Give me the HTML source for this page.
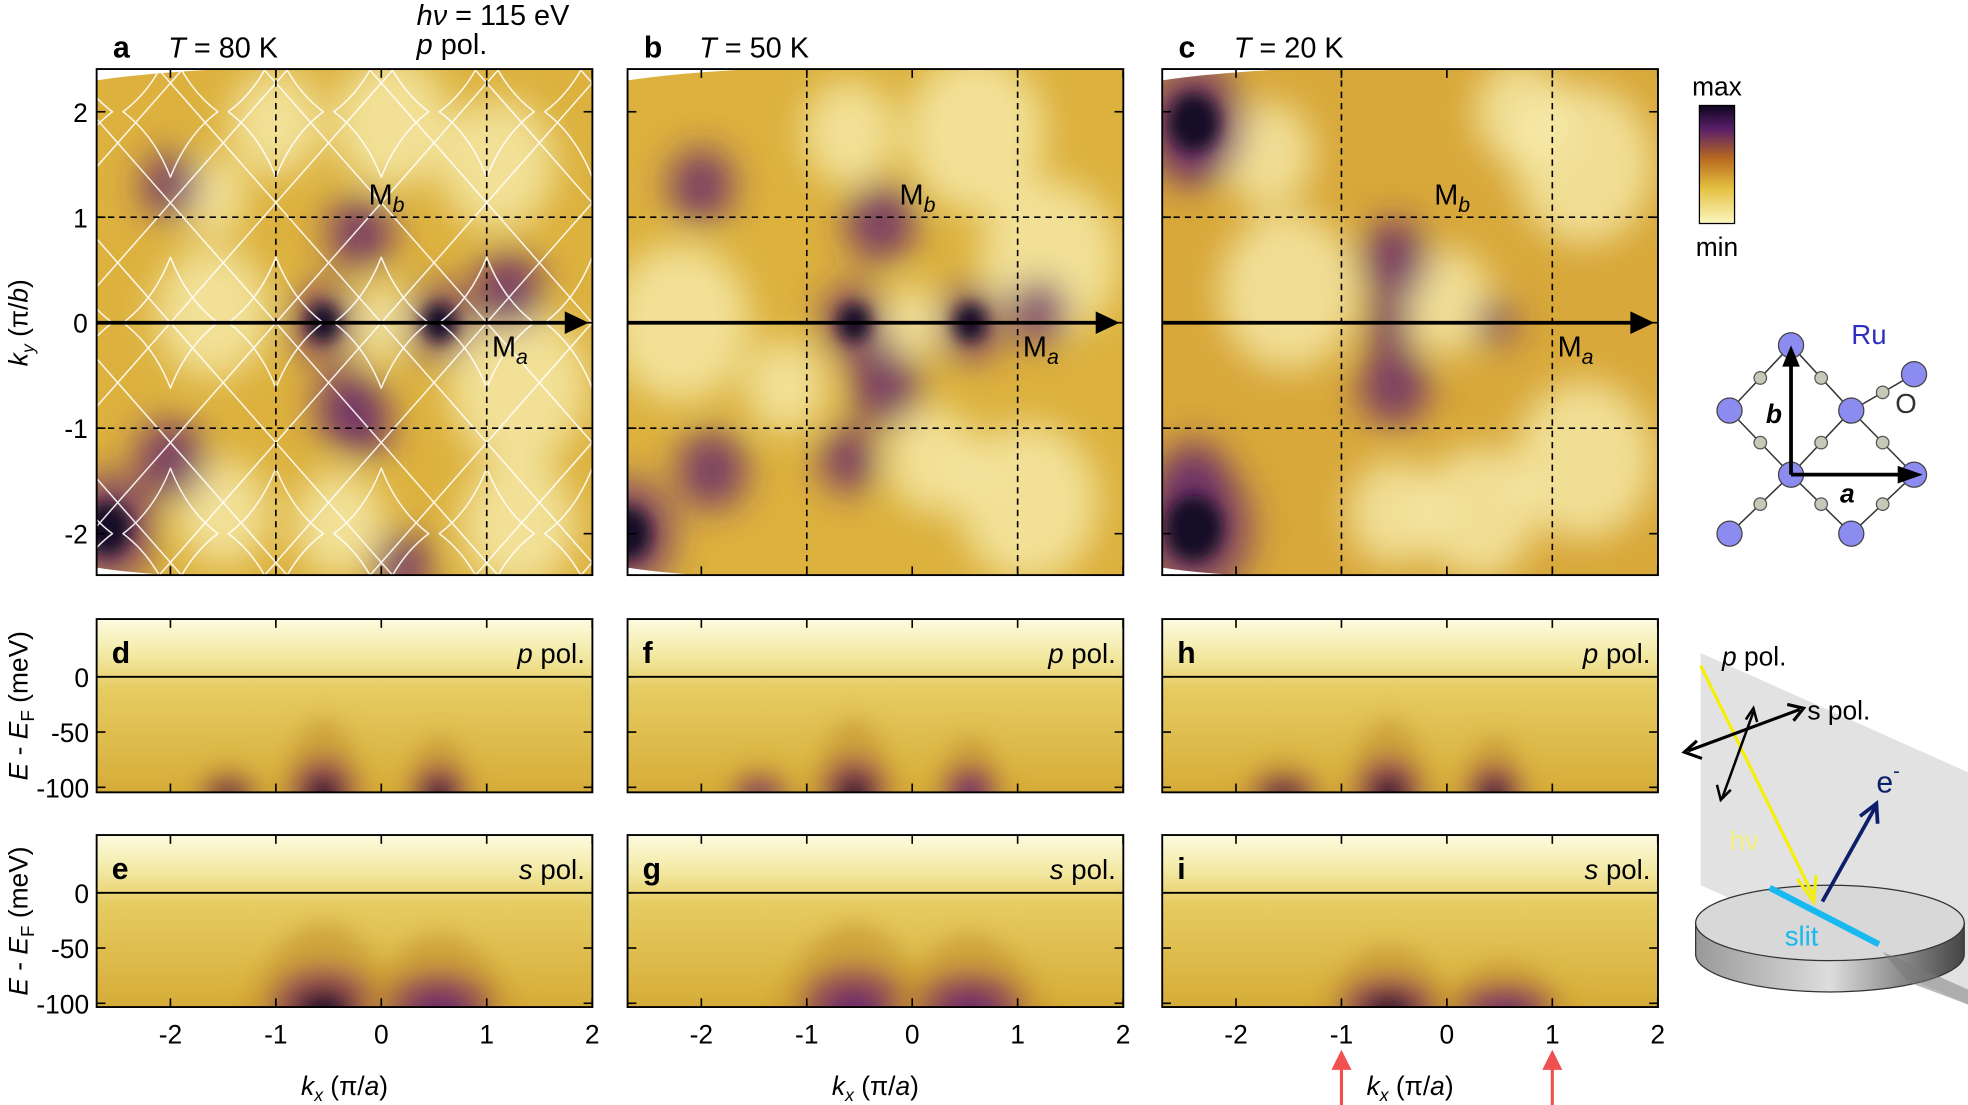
<!DOCTYPE html>
<html><head><meta charset="utf-8"><style>
html,body{margin:0;padding:0;background:#fff}
svg{display:block;font-family:"Liberation Sans",sans-serif}
</style></head><body>
<svg id="fig" width="1968" height="1105" viewBox="0 0 1568 880" preserveAspectRatio="none" xmlns="http://www.w3.org/2000/svg">
<defs>
<filter id="blur" x="-50%" y="-50%" width="200%" height="200%"><feGaussianBlur stdDeviation="14"/></filter>
<filter id="blurS" x="-50%" y="-50%" width="200%" height="200%"><feGaussianBlur stdDeviation="6"/></filter>
<filter id="blur2" x="-50%" y="-50%" width="200%" height="200%"><feGaussianBlur stdDeviation="9"/></filter>
<linearGradient id="cbar" x1="0" y1="1" x2="0" y2="0">
<stop offset="0" stop-color="#fbf7c0"/><stop offset="0.3" stop-color="#e4c040"/><stop offset="0.55" stop-color="#b86a20"/><stop offset="0.8" stop-color="#5a1f6a"/><stop offset="1" stop-color="#0d0520"/></linearGradient>
<linearGradient id="topband" x1="0" y1="0" x2="0" y2="1">
<stop offset="0" stop-color="#fdfbe0"/><stop offset="0.2" stop-color="#f3eaa6"/><stop offset="0.4" stop-color="#e6cc62"/><stop offset="1" stop-color="#d6ac38"/></linearGradient>
<linearGradient id="cyl" x1="0" y1="0" x2="1" y2="0"><stop offset="0" stop-color="#999"/><stop offset="0.5" stop-color="#ddd"/><stop offset="1" stop-color="#444"/></linearGradient>
</defs>
<g id="panels"></g>
<g id="deco"></g>
</svg>
<script>
// ---------- data ----------
const kxTicks = [-2,-1,0,1,2];
const kyTicks = [2,1,0,-1,-2];
const eTicks = [0,-50,-100];
const mapLetters = ["a","b","c"];
const mapTemps = ["T = 80 K","T = 50 K","T = 20 K"];
const cutLettersP = ["d","f","h"];
const cutLettersS = ["e","g","i"];
// Fermi-surface map features: [kx, ky, radius(k units), level] level: -1 light, 1 purple, 2 dark
const mapA = [[0,0,0.3,-1],[-1.6,0.1,0.5,-1],[1.3,-0.6,0.6,-1],[1.1,1.5,0.5,-1],[-1.0,1.9,0.4,-1],[0.1,1.9,0.5,-1],[1.3,-1.9,0.5,-1],[-0.4,-1.9,0.4,-1],[-1.5,-1.8,0.4,-1],[-1.6,1.2,0.3,-1],[-0.55,0,0.14,2],[0.55,0,0.14,2],[-2.0,1.3,0.25,1],[-2.0,-1.3,0.3,1],[-0.2,0.85,0.28,1],[-0.3,-0.8,0.3,1],[-0.15,-1.0,0.22,1],[-2.6,-1.95,0.2,2],[1.2,0.3,0.3,1],[0.2,-2.3,0.25,1]];
const mapB = [[0,0,0.28,-1],[-2.2,0,0.6,-1],[1.3,0.6,0.6,-1],[1.1,-1.7,0.6,-1],[0.6,1.8,0.6,-1],[-0.6,1.8,0.4,-1],[-1.2,-0.6,0.35,-1],[0.2,-1.3,0.4,-1],[-0.55,0,0.14,2],[0.55,0,0.14,2],[-0.3,0.95,0.3,1],[-0.25,-0.6,0.3,1],[-2.0,1.3,0.28,1],[-1.9,-1.4,0.3,1],[-2.7,-2,0.2,2],[-0.6,-1.3,0.25,1],[1.2,0.1,0.25,1]];
const mapC = [[-1.5,0.3,0.6,-1],[0.0,0.2,0.4,-1],[1.3,1.5,0.6,-1],[0.3,-1.8,0.5,-1],[1.3,-1.3,0.6,-1],[-0.5,-1.8,0.4,-1],[-1.7,1.6,0.4,-1],[0.7,2.0,0.4,-1],[-2.4,1.9,0.22,2],[-2.4,1.6,0.25,1],[-2.4,-1.95,0.25,2],[-2.4,-1.5,0.3,1],[0.45,0,0.17,1],[-0.5,0.6,0.3,1],[-0.5,-0.6,0.3,1],[-0.55,0,0.2,1]];
const maps = [mapA, mapB, mapC];
// dispersion cuts: [kx, width(k), energy depth(meV), level]
const cutD = [[-1.45,0.25,30,2],[-0.55,0.3,70,2],[0.55,0.25,55,2]];
const cutE = [[-0.55,0.5,80,2],[0.55,0.5,70,1]];
const cutF = [[-1.45,0.25,30,1],[-0.55,0.3,70,2],[0.55,0.25,55,1]];
const cutG = [[-0.55,0.5,80,1],[0.55,0.5,70,1]];
const cutH = [[-1.55,0.3,35,2],[-0.55,0.3,70,2],[0.45,0.25,55,2]];
const cutI = [[-0.55,0.45,60,2],[0.55,0.45,45,1]];
const cutsP = [cutD, cutF, cutH];
const cutsS = [cutE, cutG, cutI];

// ---------- geometry ----------
const panelX = [77, 500, 926];
const PW = 395, UNIT = 84;
const mapTop = 55, mapBot = 458, ky0 = 257;
const cutP = {top:493, zero:539, bot:631};
const cutS = {top:665, zero:711, bot:802};
const EPX = 0.88;
function xk(p, kx){ return panelX[p] + (kx + 2.7) * UNIT; }
function yk(ky){ return ky0 - ky * UNIT; }
function yE(r, e){ return r.zero - e * EPX; }

const NS = "http://www.w3.org/2000/svg";
const root = document.getElementById('panels');
function el(tag, attrs, parent, text){
  const e = document.createElementNS(NS, tag);
  for (const k in attrs) e.setAttribute(k, attrs[k]);
  if (text !== undefined) e.textContent = text;
  (parent || root).appendChild(e);
  return e;
}
const COL = {"-1":"#f8f0b4","1":"#6a2a6a","2":"#150828"};
const OPA = {"-1":0.75,"1":0.85,"2":1};

for (let p = 0; p < 3; p++){
  const x0 = panelX[p];
  const cp = el('clipPath', {id:'cm'+p});
  el('rect', {x:x0, y:mapTop, width:PW, height:mapBot-mapTop}, cp);
  const g = el('g', {'clip-path':'url(#cm'+p+')'});
  
  
  el('rect', {x:x0, y:mapTop, width:PW, height:mapBot-mapTop, fill: p==2 ? '#d8a83a' : '#dcb13e'}, g);
  const bg = el('g', {filter:'url(#blur)'}, g);
  const sg = el('g', {filter:'url(#blurS)'}, g);
  maps[p].forEach(f => {
    const dark = f[3] == 2;
    if (dark) {
      const h = el('ellipse', {cx:xk(p,f[0]), cy:yk(f[1]), rx:f[2]*UNIT*2.2, ry:f[2]*UNIT*2.6, fill:COL[1], opacity:0.8}, bg);
      
      
    }
    const c = el('ellipse', {cx:xk(p,f[0]), cy:yk(f[1]), rx:f[2]*UNIT*1.1, ry:f[2]*UNIT*1.25, fill:COL[f[3]], opacity:OPA[f[3]]}, dark ? sg : bg);
    
    
  });
  el('path', {d:`M${x0} ${mapTop} L${x0+100} ${mapTop} Q${x0+40} ${mapTop+3} ${x0} ${mapTop+9}Z`, fill:'#fff'}, g);
  el('path', {d:`M${x0} ${mapBot} L${x0+60} ${mapBot} Q${x0+25} ${mapBot-2} ${x0} ${mapBot-6}Z`, fill:'#fff'}, g);
  if (p == 0){
    const fs = el('g', {fill:'none', stroke:'#fff', 'stroke-width':1.2, 'stroke-linejoin':'round', opacity:0.9}, g);
    
    
    for (let cx = -3; cx <= 2; cx++){
      for (const cy of [2, 0, -2]){
        const X = xk(p,cx), Y = yk(cy), w = 0.45*UNIT, h = 0.62*UNIT;
        el('path', {d:`M${X} ${Y-h} Q${X+w*0.35} ${Y-h*0.35} ${X+w} ${Y} Q${X+w*0.35} ${Y+h*0.35} ${X} ${Y+h} Q${X-w*0.35} ${Y+h*0.35} ${X-w} ${Y} Q${X-w*0.35} ${Y-h*0.35} ${X} ${Y-h}Z`}, fs);
      }
    }
    for (let s = -5; s <= 5; s++){
      el('line', {x1:xk(p,s-2.2), y1:yk(2.5), x2:xk(p,s+2.2), y2:yk(-2.5)}, fs);
      el('line', {x1:xk(p,s-2.2), y1:yk(-2.5), x2:xk(p,s+2.2), y2:yk(2.5)}, fs);
    }
  }
  [-1,1].forEach(v => {
    el('line', {x1:xk(p,v), y1:mapTop, x2:xk(p,v), y2:mapBot, stroke:'#000', 'stroke-width':1.3, 'stroke-dasharray':'5,4'}, g);
    el('line', {x1:x0, y1:yk(v), x2:x0+PW, y2:yk(v), stroke:'#000', 'stroke-width':1.3, 'stroke-dasharray':'5,4'}, g);
  });
  const ar = el('g', {}, g);
  
  
  el('line', {x1:x0, y1:yk(0), x2:x0+PW-18, y2:yk(0), stroke:'#000', 'stroke-width':3}, ar);
  el('path', {d:`M${x0+PW-22} ${yk(0)-9} L${x0+PW-3} ${yk(0)} L${x0+PW-22} ${yk(0)+9}Z`, fill:'#000'}, ar);
  el('rect', {x:x0, y:mapTop, width:PW, height:mapBot-mapTop, fill:'none', stroke:'#000', 'stroke-width':1.5});
  kxTicks.forEach(t => {
    el('line', {x1:xk(p,t), y1:mapTop, x2:xk(p,t), y2:mapTop+7, stroke:'#000','stroke-width':1.3});
    el('line', {x1:xk(p,t), y1:mapBot, x2:xk(p,t), y2:mapBot-7, stroke:'#000','stroke-width':1.3});
  });
  kyTicks.forEach(t => {
    el('line', {x1:x0, y1:yk(t), x2:x0+7, y2:yk(t), stroke:'#000','stroke-width':1.3});
    el('line', {x1:x0+PW, y1:yk(t), x2:x0+PW-7, y2:yk(t), stroke:'#000','stroke-width':1.3});
  });
  const lt = el('text', {x:x0+13, y:46, 'font-size':24, 'font-weight':'bold'}, undefined, mapLetters[p]);
  
  
  const tt = el('text', {x:x0+57, y:46, 'font-size':23});
  
  
  el('tspan', {'font-style':'italic'}, tt, 'T');
  el('tspan', {}, tt, mapTemps[p].slice(1));
  const mb = el('text', {x:xk(p,-0.12), y:yk(1.12), 'font-size':23});
   
  mb.textContent = 'M'; el('tspan', {'font-size':17, 'font-style':'italic', dy:6}, mb, 'b');
  const ma = el('text', {x:xk(p,1.05), y:yk(-0.32), 'font-size':23});
   
  ma.textContent = 'M'; el('tspan', {'font-size':17, 'font-style':'italic', dy:6}, ma, 'a');

  [[cutP, cutsP[p], cutLettersP[p], 'p'], [cutS, cutsS[p], cutLettersS[p], 's']].forEach(([r, feats, letter, pol]) => {
    const id = 'cc'+letter;
    const c2 = el('clipPath', {id:id});
    el('rect', {x:x0, y:r.top, width:PW, height:r.bot-r.top}, c2);
    const cg = el('g', {'clip-path':`url(#${id})`});
    
    
    el('rect', {x:x0, y:r.top, width:PW, height:r.bot-r.top, fill:'url(#topband)'}, cg);
    const bb = el('g', {filter:'url(#blur2)'}, cg);
    feats.forEach(f => {
      const X = xk(p,f[0]), W = f[1]*UNIT, D = f[2];
      const a = el('path', {d:`M${X-W*1.6} ${r.bot+10} Q${X} ${yE(r,-100+D*2.0)} ${X+W*1.6} ${r.bot+10}Z`, fill:'#c08a28', opacity:0.55}, bb);
      
      
      el('ellipse', {cx:X, cy:r.bot, rx:W*1.0, ry:D*0.4, fill:'#8a3a5a', opacity:0.7}, bb);
      el('ellipse', {cx:X, cy:r.bot+2, rx:W*0.55, ry:D*0.2, fill:COL[f[3]], opacity:0.95}, bb);
    });
    el('line', {x1:x0, y1:yE(r,0), x2:x0+PW, y2:yE(r,0), stroke:'#000', 'stroke-width':1.5}, cg);
    el('rect', {x:x0, y:r.top, width:PW, height:r.bot-r.top, fill:'none', stroke:'#000', 'stroke-width':1.5});
    kxTicks.forEach(t => {
      el('line', {x1:xk(p,t), y1:r.top, x2:xk(p,t), y2:r.top+7, stroke:'#000','stroke-width':1.3});
      el('line', {x1:xk(p,t), y1:r.bot, x2:xk(p,t), y2:r.bot-7, stroke:'#000','stroke-width':1.3});
    });
    eTicks.forEach(t => {
      el('line', {x1:x0, y1:yE(r,t), x2:x0+7, y2:yE(r,t), stroke:'#000','stroke-width':1.3});
      el('line', {x1:x0+PW, y1:yE(r,t), x2:x0+PW-7, y2:yE(r,t), stroke:'#000','stroke-width':1.3});
    });
    const l2 = el('text', {x:x0+12, y:r.top+35, 'font-size':24, 'font-weight':'bold'}, undefined, letter);
    
    
    const pl = el('text', {x:x0+PW-6, y:r.top+35, 'font-size':22, 'text-anchor':'end'});
    
    
    el('tspan', {'font-style':'italic'}, pl, pol);
    el('tspan', {}, pl, ' pol.');
    if (p == 0){
      eTicks.forEach(t => {
        const tl = el('text', {x:x0-6, y:yE(r,t)+8, 'font-size':21, 'text-anchor':'end'}, undefined, String(t));
        
        
      });
      const yl = el('text', {transform:`translate(22 ${(r.top+r.bot)/2}) rotate(-90)`, 'font-size':21, 'text-anchor':'middle'});
      
      
      el('tspan', {'font-style':'italic'}, yl, 'E');
      el('tspan', {}, yl, ' - ');
      el('tspan', {'font-style':'italic'}, yl, 'E');
      el('tspan', {'font-size':15, dy:5}, yl, 'F');
      el('tspan', {dy:-5}, yl, ' (meV)');
    }
  });
  kxTicks.forEach(t => {
    const tl = el('text', {x:xk(p,t), y:831, 'font-size':21, 'text-anchor':'middle'}, undefined, String(t));
    
    
  });
  const xt = el('text', {x:x0+PW/2, y:872, 'font-size':21, 'text-anchor':'middle'});
  
  
  el('tspan', {'font-style':'italic'}, xt, 'k');
  el('tspan', {'font-size':14, dy:5, 'font-style':'italic'}, xt, 'x');
  el('tspan', {dy:-5}, xt, ' (π/');
  el('tspan', {'font-style':'italic'}, xt, 'a');
  el('tspan', {}, xt, ')');
}
kyTicks.forEach(t => {
  const tl = el('text', {x:70, y:yk(t)+8, 'font-size':21, 'text-anchor':'end'}, undefined, String(t));
  
  
});
const kyt = el('text', {transform:`translate(22 ${ky0}) rotate(-90)`, 'font-size':21, 'text-anchor':'middle'});


el('tspan', {'font-style':'italic'}, kyt, 'k');
el('tspan', {'font-size':14, dy:5, 'font-style':'italic'}, kyt, 'y');
el('tspan', {dy:-5}, kyt, ' (π/');
el('tspan', {'font-style':'italic'}, kyt, 'b');
el('tspan', {}, kyt, ')');
[-1,1].forEach(v => {
  const g = el('g', {});
  
  
  el('line', {x1:xk(2,v), y1:880, x2:xk(2,v), y2:848, stroke:'#f05050', 'stroke-width':2.5}, g);
  el('path', {d:`M${xk(2,v)-8} ${852} L${xk(2,v)} ${836} L${xk(2,v)+8} ${852}Z`, fill:'#f05050'}, g);
});
</script>
<script>
(function(){
const NS="http://www.w3.org/2000/svg", d=document.getElementById('deco');
function el(t,a,p,txt){const e=document.createElementNS(NS,t);for(const k in a)e.setAttribute(k,a[k]);if(txt!==undefined)e.textContent=txt;(p||d).appendChild(e);return e;}
const hv=el('text',{x:332,y:20,'font-size':23});


el('tspan',{'font-style':'italic'},hv,'hν');
el('tspan',{},hv,' = 115 eV');
const pp=el('text',{x:332,y:43,'font-size':23});


el('tspan',{'font-style':'italic'},pp,'p');
el('tspan',{},pp,' pol.');
const cb=el('g',{});


el('rect',{x:1354,y:84,width:28,height:94,fill:'url(#cbar)',stroke:'#000','stroke-width':1},cb);
el('text',{x:1368,y:76,'font-size':21,'text-anchor':'middle'},cb,'max');
el('text',{x:1368,y:204,'font-size':21,'text-anchor':'middle'},cb,'min');
const cr=el('g',{});


const Ru=[[1427,275],[1525,298],[1378,327],[1475,327],[1427,378],[1525,378],[1378,425],[1475,425]];
const bonds=[[0,2],[0,3],[2,4],[3,4],[3,1],[3,5],[4,6],[4,7],[5,7]];
bonds.forEach(b=>{const a=Ru[b[0]],c=Ru[b[1]];el('line',{x1:a[0],y1:a[1],x2:c[0],y2:c[1],stroke:'#333','stroke-width':1.2},cr);});
bonds.forEach(b=>{const a=Ru[b[0]],c=Ru[b[1]];el('circle',{cx:(a[0]+c[0])/2,cy:(a[1]+c[1])/2,r:5,fill:'#c8c8b8',stroke:'#555','stroke-width':1},cr);});
Ru.forEach(r=>el('circle',{cx:r[0],cy:r[1],r:10,fill:'#8c8cf0',stroke:'#444','stroke-width':1},cr));
el('line',{x1:1427,y1:378,x2:1427,y2:288,stroke:'#000','stroke-width':3},cr);
el('path',{d:'M1420 292 L1427 275 L1434 292Z',fill:'#000'},cr);
el('line',{x1:1427,y1:378,x2:1515,y2:378,stroke:'#000','stroke-width':3},cr);
el('path',{d:'M1512 371 L1532 378 L1512 385Z',fill:'#000'},cr);
el('text',{x:1407,y:337,'font-size':21,'font-weight':'bold','font-style':'italic'},cr,'b');
el('text',{x:1466,y:400,'font-size':21,'font-weight':'bold','font-style':'italic'},cr,'a');
el('text',{x:1475,y:274,'font-size':22,fill:'#3030c0'},cr,'Ru');
el('text',{x:1510,y:329,'font-size':22,fill:'#333'},cr,'O');
const ge=el('g',{});


el('path',{d:'M1355 520 L1568 615 L1568 800 L1355 705Z',fill:'#e2e2e2'},ge);
el('path',{d:'M1351 735 L1351 760 A107 30 0 0 0 1565 760 L1565 735Z',fill:'url(#cyl)',stroke:'#333','stroke-width':1},ge);
el('ellipse',{cx:1458,cy:735,rx:107,ry:30,fill:'#d8d8d8',stroke:'#333','stroke-width':1},ge);
el('path',{d:'M1500 758 L1568 788 L1568 800 L1520 782Z',fill:'#777',opacity:0.5},ge);
el('line',{x1:1410,y1:707,x2:1497,y2:752,stroke:'#18b8f0','stroke-width':5},ge);
el('text',{x:1422,y:753,'font-size':22,fill:'#18b8f0'},ge,'slit');
el('line',{x1:1355,y1:530,x2:1444,y2:712,stroke:'#f5f000','stroke-width':2.5},ge);
el('path',{d:'M1432 700 L1445 718 L1447 697',fill:'none',stroke:'#f5f000','stroke-width':2.5},ge);
el('text',{x:1378,y:677,'font-size':22,fill:'#f5f080'},ge,'hν');
el('line',{x1:1345,y1:598,x2:1434,y2:565,stroke:'#000','stroke-width':2.5},ge);
el('path',{d:'M1352 590 L1342 599 L1356 604',fill:'none',stroke:'#000','stroke-width':2.5},ge);
el('path',{d:'M1424 561 L1437 564 L1429 574',fill:'none',stroke:'#000','stroke-width':2.5},ge);
el('line',{x1:1397,y1:567,x2:1372,y2:636,stroke:'#000','stroke-width':2},ge);
el('path',{d:'M1391 573 L1397 564 L1400 575',fill:'none',stroke:'#000','stroke-width':2},ge);
el('path',{d:'M1368 625 L1371 637 L1379 629',fill:'none',stroke:'#000','stroke-width':2},ge);
el('line',{x1:1452,y1:718,x2:1494,y2:643,stroke:'#0c1f6a','stroke-width':3},ge);
el('path',{d:'M1482 650 L1495 640 L1496 656',fill:'none',stroke:'#0c1f6a','stroke-width':3},ge);
const eT=el('text',{x:1495,y:631,'font-size':24,fill:'#0c1f6a'},ge,'e');
el('tspan',{'font-size':16,dy:-12},eT,'-');
const pT=el('text',{x:1372,y:530,'font-size':21},ge);
el('tspan',{'font-style':'italic'},pT,'p');el('tspan',{},pT,' pol.');
el('text',{x:1440,y:573,'font-size':21},ge,'s pol.');
})();
</script>
</body></html>
